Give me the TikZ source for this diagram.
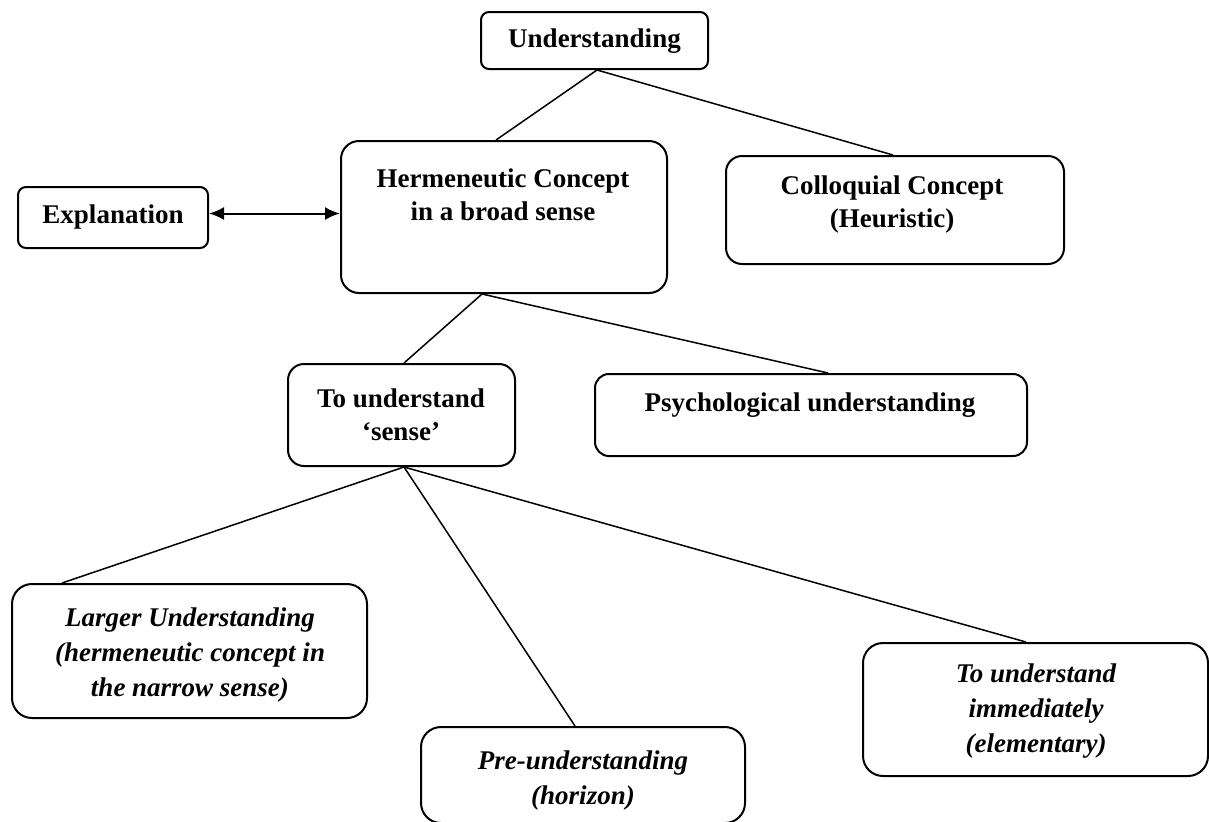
\documentclass[tikz,border=0pt]{standalone}
\usepackage{fontspec}
\setmainfont{Liberation Serif}
\usetikzlibrary{calc,arrows.meta}
\begin{document}
\begin{tikzpicture}[x=0.5pt,y=-0.5pt,
  box/.style={draw, line width=1pt, rounded corners=#1, inner sep=0pt},
  box/.default=4pt,
  hd/.style={font=\fontsize{13.5}{16.5}\selectfont\bfseries, align=center, inner sep=0pt},
  itx/.style={font=\fontsize{13.5}{17.5}\selectfont\bfseries\itshape, align=center, inner sep=0pt},
  con/.style={line width=0.75pt},
  tip/.style={line width=1pt, {Latex[length=7.5pt,width=6.5pt]}-{Latex[length=7.5pt,width=6.5pt]}}]
\useasboundingbox (0,0) rectangle (1209,821);

% boxes
\node[box=4pt, minimum width=113.5pt, minimum height=28.5pt] (U) at (594.5,40.5) {};
\node[box=9pt, minimum width=163pt, minimum height=76pt] (herm) at (504,217) {};
\node[box=4pt, minimum width=95pt, minimum height=30.5pt] (expl) at (113,217.5) {};
\node[box=8pt, minimum width=169pt, minimum height=54pt] (coll) at (895,210) {};
\node[box=8pt, minimum width=113.5pt, minimum height=51pt] (tu) at (401.5,415) {};
\node[box=7pt, minimum width=216pt, minimum height=41pt] (psy) at (811,415) {};
\node[box=10pt, minimum width=177.5pt, minimum height=67pt] (larger) at (189.5,651) {};
\node[box=10pt, minimum width=162pt, minimum height=48pt] (pre) at (583,775) {};
\node[box=10pt, minimum width=172.5pt, minimum height=66.5pt] (imm) at (1035.5,709.5) {};

% texts
\node[hd] (Ut) at (594.5,41) {Understanding};
\node[hd] (hermt) at (503,195) {Hermeneutic Concept\\in a broad sense};
\node[hd] (explt) at (113,217) {Explanation};
\node[hd] (collt) at (892,204) {Colloquial Concept\\(Heuristic)};
\node[hd] (tut) at (401,415) {To understand\\‘sense’};
\node[hd] (psyt) at (810,405) {Psychological understanding};
\node[itx] (largert) at (190,655) {Larger Understanding\\(hermeneutic concept in\\the narrow sense)};
\node[itx] (pret) at (583,780) {Pre-understanding\\(horizon)};
\node[itx] (immt) at (1036,711) {To understand\\immediately\\(elementary)};

% connectors
\draw[con] ($(U.south)+(2.5,0)$) -- ($(herm.north)+(-8,0)$);
\draw[con] ($(U.south)+(2.5,0)$) -- ($(coll.north)+(-2,0)$);
\draw[con] ($(herm.south)+(-22,0)$) -- ($(tu.north)+(2.5,0)$);
\draw[con] ($(herm.south)+(-22,0)$) -- ($(psy.north)+(17,0)$);
\draw[con] ($(tu.south)+(2.5,0)$) -- ($(larger.north)+(-127.5,0)$);
\draw[con] ($(tu.south)+(2.5,0)$) -- ($(pre.north)+(-8,0)$);
\draw[con] ($(tu.south)+(2.5,0)$) -- ($(imm.north)+(-9.5,0)$);
\draw[tip] ([yshift=2pt]expl.east) -- ([yshift=2pt]expl.east -| herm.west);
\end{tikzpicture}
\end{document}
